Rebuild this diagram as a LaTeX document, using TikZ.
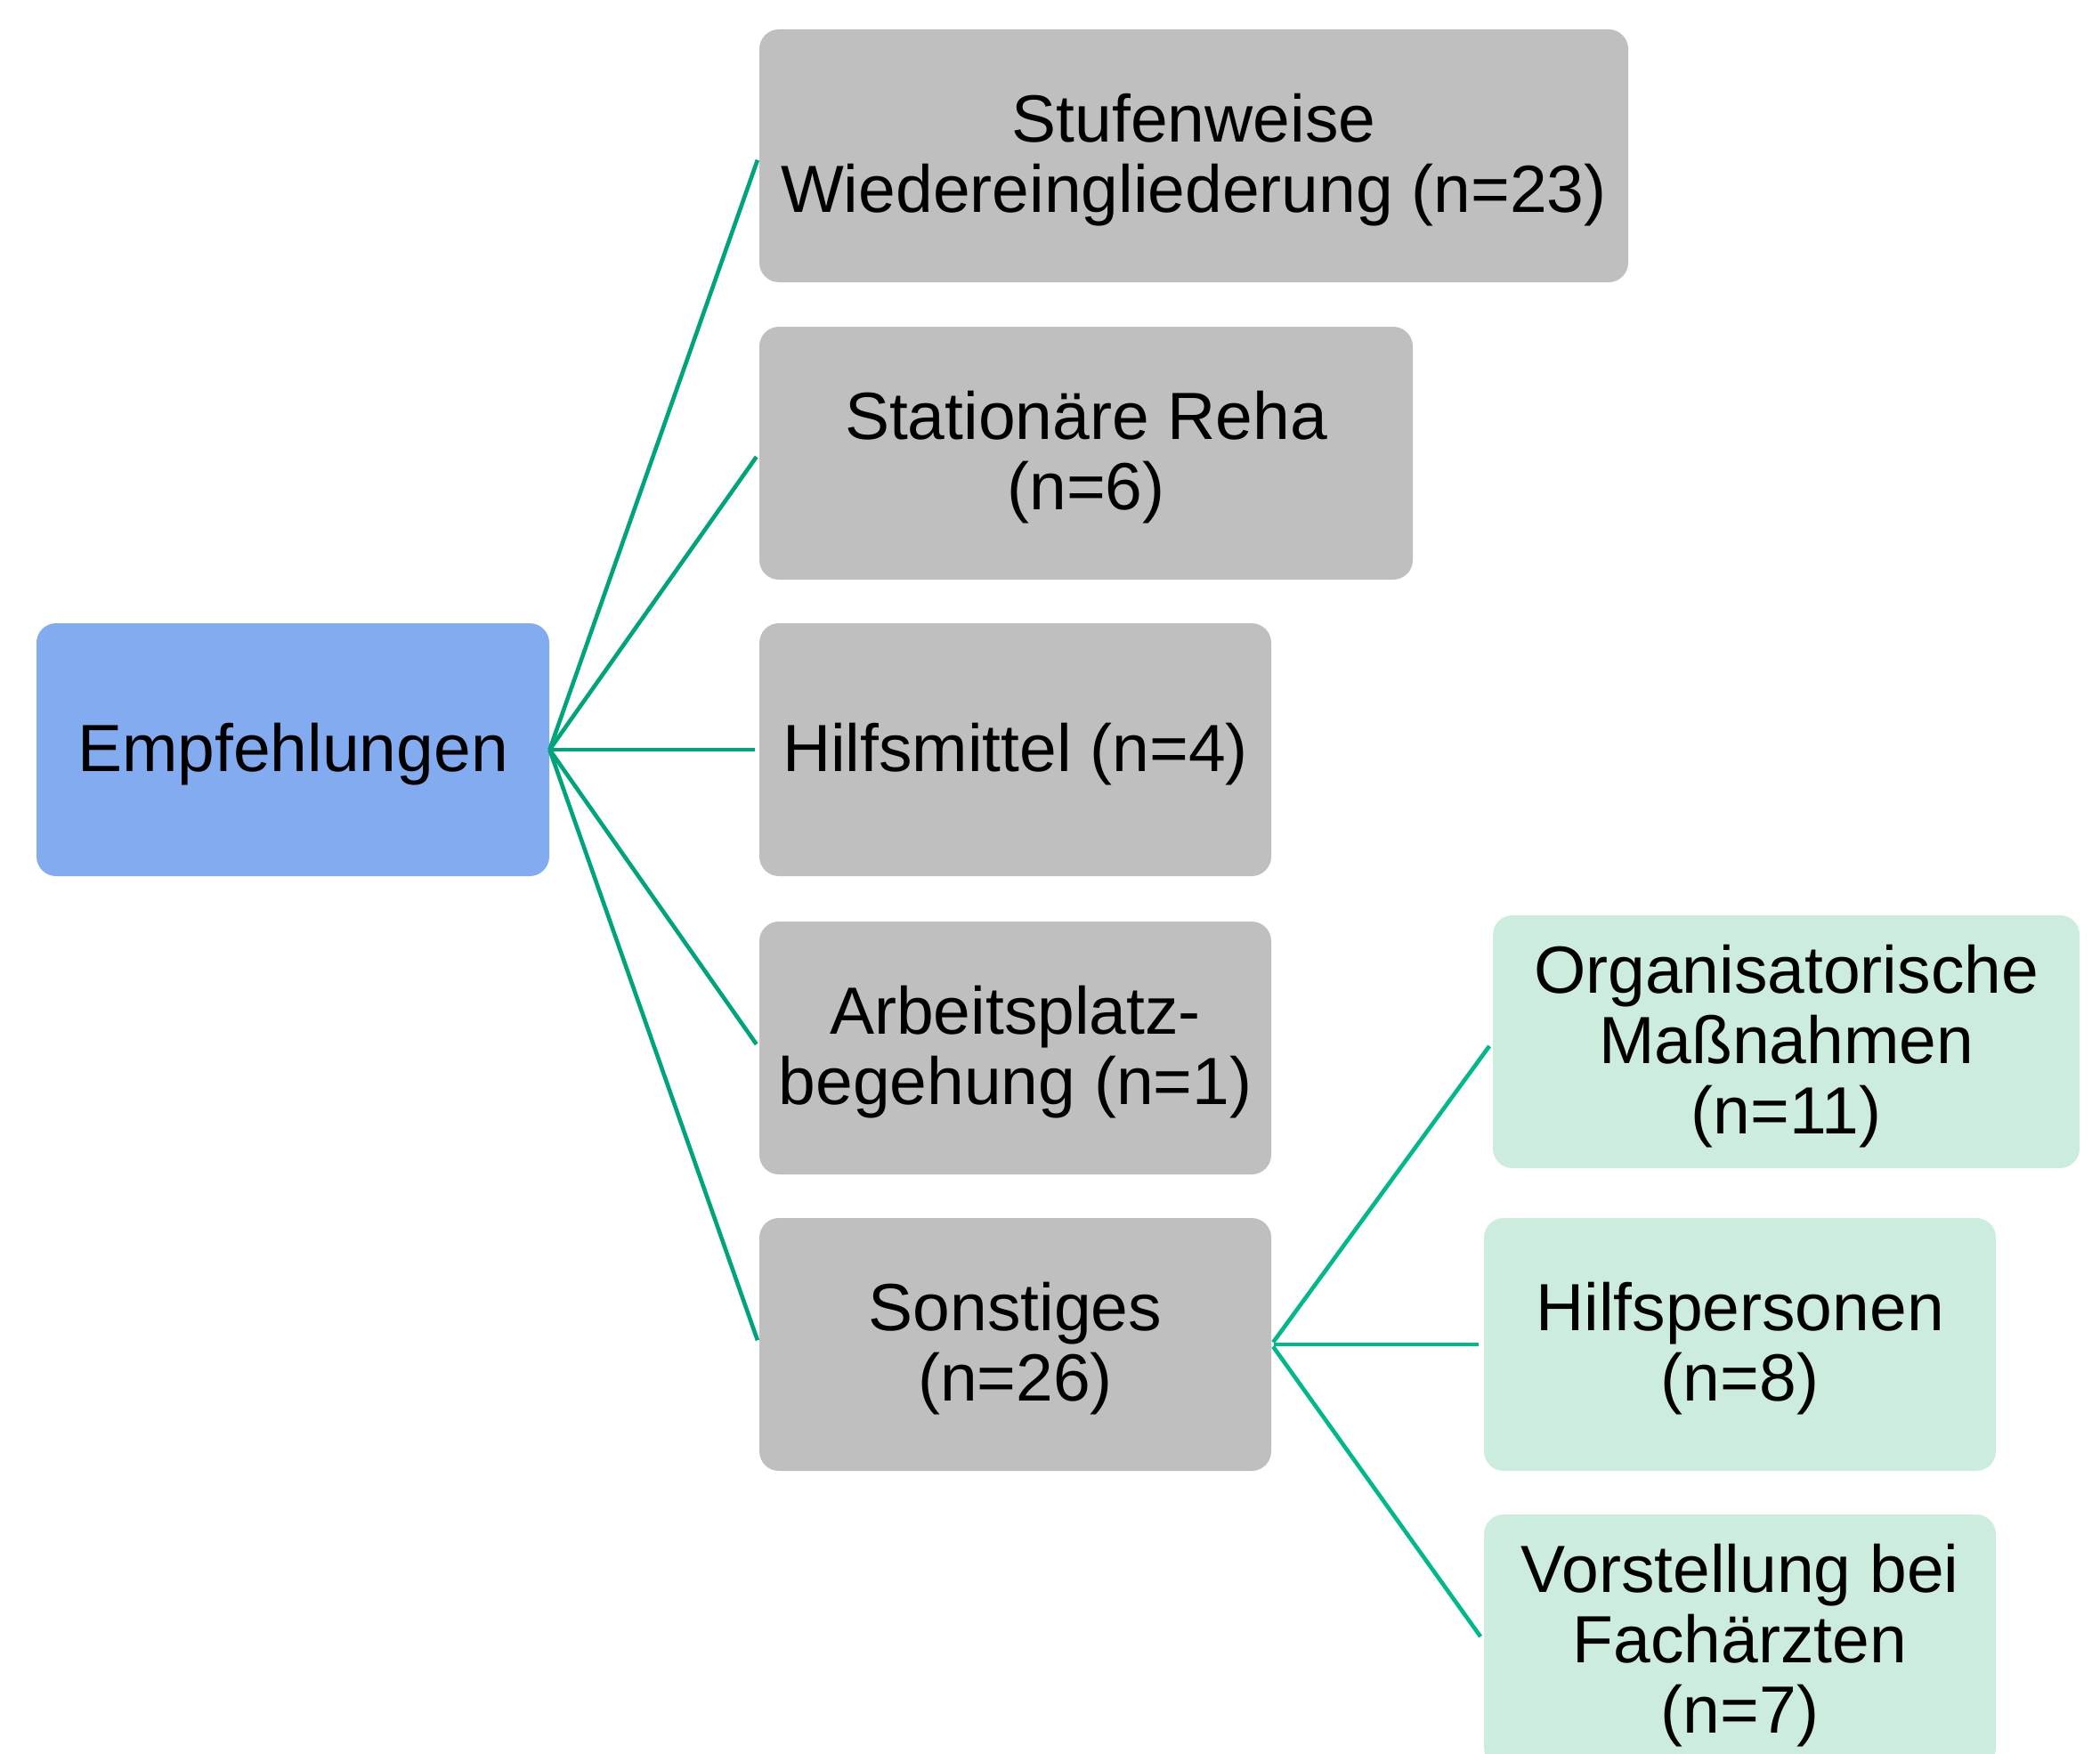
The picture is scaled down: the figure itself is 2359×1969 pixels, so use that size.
\documentclass[tikz,border=0pt]{standalone}
\usepackage{fontspec}
\setmainfont{Liberation Sans}
\begin{document}
\begin{tikzpicture}[x=0.5pt,y=-0.5pt,
  box/.style={rounded corners=11pt, minimum height=142pt, inner sep=0pt},
  txt/.style={align=center, inner sep=0pt, yshift=-2.5pt,
    font=\fontsize{37.5}{39.5}\selectfont, text=black},
  rootbox/.style={box, fill=rootblue},
  midbox/.style={box, fill=midgray},
  leafbox/.style={box, fill=leafgreen},
  conA/.style={draw=lineA, line width=2.3pt},
  conB/.style={draw=lineB, line width=2.3pt}]
\definecolor{rootblue}{RGB}{130,171,240}
\definecolor{midgray}{RGB}{191,191,191}
\definecolor{leafgreen}{RGB}{204,236,222}
\definecolor{lineA}{RGB}{0,164,122}
\definecolor{lineB}{RGB}{0,184,138}
\useasboundingbox (0,0) rectangle (2359,1969);
\begin{scope}
\clip (0,0) rectangle (2359,1969);
\node[rootbox, minimum width=288pt, label={[txt]center:Empfehlungen}] (root) at (329,842) {};
\node[midbox, minimum width=488pt, label={[txt]center:Stufenweise\\Wiedereingliederung (n=23)}] (s1) at (1341,175) {};
\node[midbox, minimum width=367pt, label={[txt]center:Stationäre Reha\\(n=6)}] (s2) at (1220,509) {};
\node[midbox, minimum width=287.5pt, label={[txt]center:Hilfsmittel (n=4)}] (s3) at (1140.5,842) {};
\node[midbox, minimum width=287.5pt, label={[txt]center:Arbeitsplatz-\\begehung (n=1)}] (s4) at (1140.5,1177) {};
\node[midbox, minimum width=287.5pt, label={[txt]center:Sonstiges\\(n=26)}] (s5) at (1140.5,1510) {};
\node[leafbox, minimum width=329.5pt, label={[txt]center:Organisatorische\\Maßnahmen\\(n=11)}] (l1) at (2006.5,1170) {};
\node[leafbox, minimum width=287.5pt, label={[txt]center:Hilfspersonen\\(n=8)}] (l2) at (1954.5,1510) {};
\node[leafbox, minimum width=287.5pt, label={[txt]center:Vorstellung bei\\Fachärzten\\(n=7)}] (l3) at (1954.5,1843) {};
\end{scope}
\foreach \t in {s1,s2,s3,s4,s5}
  \draw[conA, shorten >=2.5pt] (root.east) -- (\t.west);
\foreach \t in {l1,l2,l3}
  \draw[conB, shorten >=3pt, shorten <=1.5pt] (s5.east) -- (\t.west);
\end{tikzpicture}
\end{document}
